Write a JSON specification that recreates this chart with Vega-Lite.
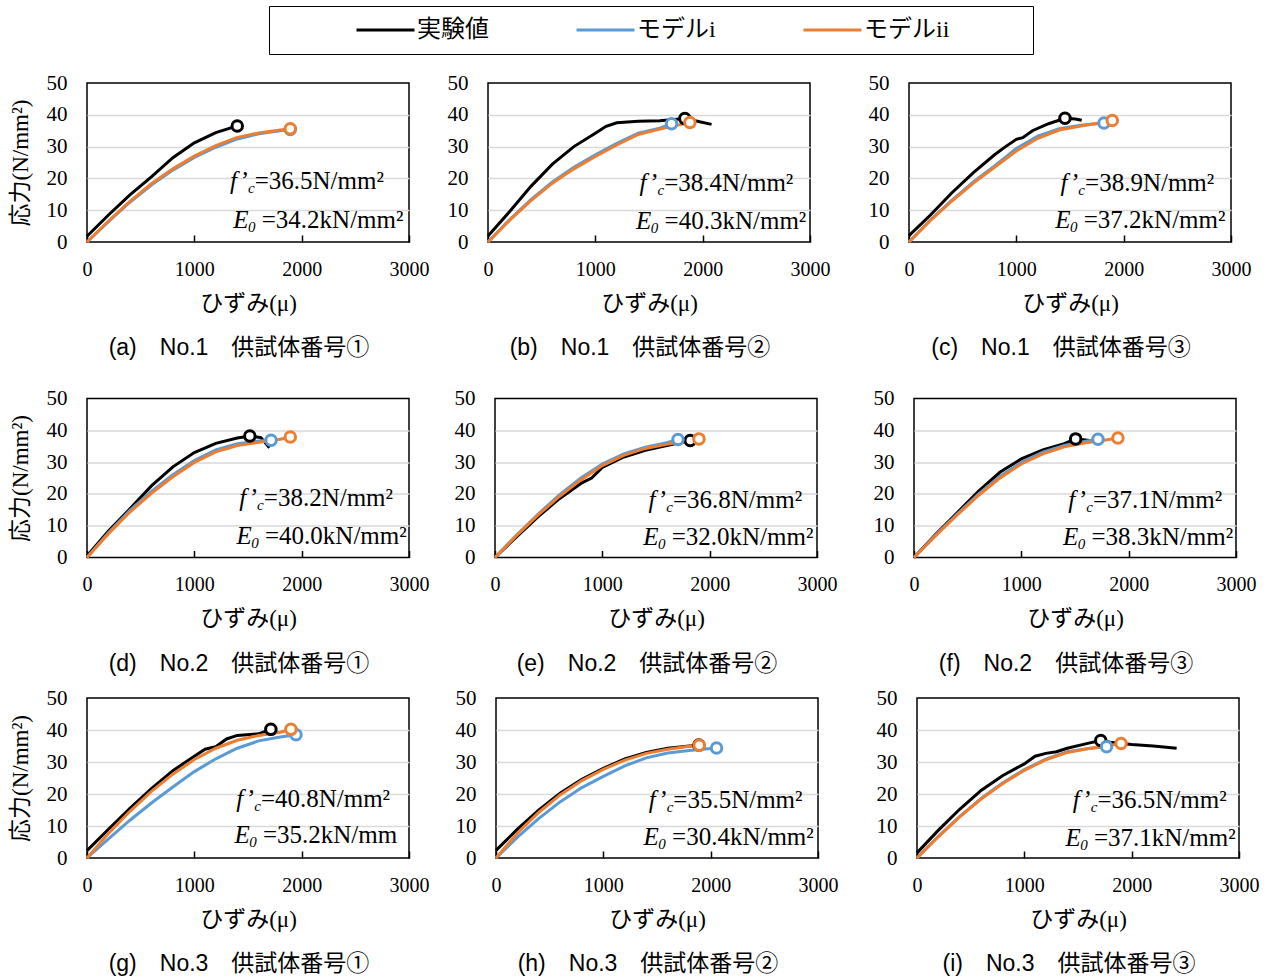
{
"$schema": "https://vega.github.io/schema/vega-lite/v6.json",
"padding": {"left": 8, "top": 5, "right": 5, "bottom": 0},
"background": "white",
"datasets": {
"curves": [
{"panel":"a","series":"実験値","strain":0,"stress":1.8},{"panel":"a","series":"実験値","strain":200,"stress":8.5},{"panel":"a","series":"実験値","strain":400,"stress":14.8},{"panel":"a","series":"実験値","strain":600,"stress":20.5},{"panel":"a","series":"実験値","strain":800,"stress":26.5},{"panel":"a","series":"実験値","strain":1000,"stress":31.2},{"panel":"a","series":"実験値","strain":1200,"stress":34.4},{"panel":"a","series":"実験値","strain":1400,"stress":36.5},
{"panel":"a","series":"モデルi","strain":0,"stress":0},{"panel":"a","series":"モデルi","strain":200,"stress":6.4},{"panel":"a","series":"モデルi","strain":400,"stress":12.5},{"panel":"a","series":"モデルi","strain":600,"stress":17.9},{"panel":"a","series":"モデルi","strain":800,"stress":22.6},{"panel":"a","series":"モデルi","strain":1000,"stress":26.6},{"panel":"a","series":"モデルi","strain":1200,"stress":29.8},{"panel":"a","series":"モデルi","strain":1400,"stress":32.4},{"panel":"a","series":"モデルi","strain":1600,"stress":34},{"panel":"a","series":"モデルi","strain":1800,"stress":35},{"panel":"a","series":"モデルi","strain":1894,"stress":35.4},
{"panel":"a","series":"モデルii","strain":0,"stress":0},{"panel":"a","series":"モデルii","strain":200,"stress":6.6},{"panel":"a","series":"モデルii","strain":400,"stress":12.8},{"panel":"a","series":"モデルii","strain":600,"stress":18.3},{"panel":"a","series":"モデルii","strain":800,"stress":23},{"panel":"a","series":"モデルii","strain":1000,"stress":27},{"panel":"a","series":"モデルii","strain":1200,"stress":30.3},{"panel":"a","series":"モデルii","strain":1400,"stress":32.9},{"panel":"a","series":"モデルii","strain":1600,"stress":34.3},{"panel":"a","series":"モデルii","strain":1800,"stress":35.2},{"panel":"a","series":"モデルii","strain":1894,"stress":35.6},

{"panel":"b","series":"実験値","strain":0,"stress":1.9},{"panel":"b","series":"実験値","strain":200,"stress":9.5},{"panel":"b","series":"実験値","strain":400,"stress":17.5},{"panel":"b","series":"実験値","strain":600,"stress":24.5},{"panel":"b","series":"実験値","strain":800,"stress":30},{"panel":"b","series":"実験値","strain":1000,"stress":34.2},{"panel":"b","series":"実験値","strain":1100,"stress":36.4},{"panel":"b","series":"実験値","strain":1200,"stress":37.5},{"panel":"b","series":"実験値","strain":1400,"stress":38},{"panel":"b","series":"実験値","strain":1600,"stress":38.1},{"panel":"b","series":"実験値","strain":1834,"stress":38.8},{"panel":"b","series":"実験値","strain":1950,"stress":38},{"panel":"b","series":"実験値","strain":2083,"stress":37},
{"panel":"b","series":"モデルi","strain":0,"stress":0},{"panel":"b","series":"モデルi","strain":200,"stress":7},{"panel":"b","series":"モデルi","strain":400,"stress":13.3},{"panel":"b","series":"モデルi","strain":600,"stress":18.9},{"panel":"b","series":"モデルi","strain":800,"stress":23.5},{"panel":"b","series":"モデルi","strain":1000,"stress":27.4},{"panel":"b","series":"モデルi","strain":1200,"stress":31},{"panel":"b","series":"モデルi","strain":1400,"stress":34.2},{"panel":"b","series":"モデルi","strain":1600,"stress":35.8},{"panel":"b","series":"モデルi","strain":1710,"stress":37.2},
{"panel":"b","series":"モデルii","strain":0,"stress":0},{"panel":"b","series":"モデルii","strain":200,"stress":6.8},{"panel":"b","series":"モデルii","strain":400,"stress":13},{"panel":"b","series":"モデルii","strain":600,"stress":18.5},{"panel":"b","series":"モデルii","strain":800,"stress":23},{"panel":"b","series":"モデルii","strain":1000,"stress":26.9},{"panel":"b","series":"モデルii","strain":1200,"stress":30.5},{"panel":"b","series":"モデルii","strain":1400,"stress":33.8},{"panel":"b","series":"モデルii","strain":1600,"stress":35.5},{"panel":"b","series":"モデルii","strain":1800,"stress":37},{"panel":"b","series":"モデルii","strain":1881,"stress":37.6},

{"panel":"c","series":"実験値","strain":0,"stress":2},{"panel":"c","series":"実験値","strain":200,"stress":8.5},{"panel":"c","series":"実験値","strain":400,"stress":15.5},{"panel":"c","series":"実験値","strain":600,"stress":21.8},{"panel":"c","series":"実験値","strain":800,"stress":27.5},{"panel":"c","series":"実験値","strain":900,"stress":30},{"panel":"c","series":"実験値","strain":1000,"stress":32.3},{"panel":"c","series":"実験値","strain":1060,"stress":32.8},{"panel":"c","series":"実験値","strain":1150,"stress":35},{"panel":"c","series":"実験値","strain":1300,"stress":37.2},{"panel":"c","series":"実験値","strain":1453,"stress":38.9},{"panel":"c","series":"実験値","strain":1550,"stress":38.7},{"panel":"c","series":"実験値","strain":1609,"stress":38.3},
{"panel":"c","series":"モデルi","strain":0,"stress":0},{"panel":"c","series":"モデルi","strain":200,"stress":7},{"panel":"c","series":"モデルi","strain":400,"stress":13.2},{"panel":"c","series":"モデルi","strain":600,"stress":18.9},{"panel":"c","series":"モデルi","strain":800,"stress":24},{"panel":"c","series":"モデルi","strain":1000,"stress":29.4},{"panel":"c","series":"モデルi","strain":1200,"stress":33.3},{"panel":"c","series":"モデルi","strain":1400,"stress":35.6},{"panel":"c","series":"モデルi","strain":1600,"stress":36.7},{"panel":"c","series":"モデルi","strain":1817,"stress":37.4},
{"panel":"c","series":"モデルii","strain":0,"stress":0},{"panel":"c","series":"モデルii","strain":200,"stress":6.8},{"panel":"c","series":"モデルii","strain":400,"stress":12.9},{"panel":"c","series":"モデルii","strain":600,"stress":18.5},{"panel":"c","series":"モデルii","strain":800,"stress":23.6},{"panel":"c","series":"モデルii","strain":1000,"stress":28.6},{"panel":"c","series":"モデルii","strain":1200,"stress":32.6},{"panel":"c","series":"モデルii","strain":1400,"stress":35.2},{"panel":"c","series":"モデルii","strain":1600,"stress":36.5},{"panel":"c","series":"モデルii","strain":1800,"stress":37.6},{"panel":"c","series":"モデルii","strain":1894,"stress":38.2},

{"panel":"d","series":"実験値","strain":0,"stress":0.5},{"panel":"d","series":"実験値","strain":200,"stress":8.3},{"panel":"d","series":"実験値","strain":400,"stress":15.3},{"panel":"d","series":"実験値","strain":600,"stress":22.5},{"panel":"d","series":"実験値","strain":800,"stress":28.5},{"panel":"d","series":"実験値","strain":1000,"stress":33},{"panel":"d","series":"実験値","strain":1200,"stress":35.9},{"panel":"d","series":"実験値","strain":1400,"stress":37.6},{"panel":"d","series":"実験値","strain":1517,"stress":38.2},{"panel":"d","series":"実験値","strain":1620,"stress":37.7},{"panel":"d","series":"実験値","strain":1700,"stress":34.5},
{"panel":"d","series":"モデルi","strain":0,"stress":0},{"panel":"d","series":"モデルi","strain":200,"stress":7.8},{"panel":"d","series":"モデルi","strain":400,"stress":14.8},{"panel":"d","series":"モデルi","strain":600,"stress":20.8},{"panel":"d","series":"モデルi","strain":800,"stress":26},{"panel":"d","series":"モデルi","strain":1000,"stress":30.5},{"panel":"d","series":"モデルi","strain":1200,"stress":33.8},{"panel":"d","series":"モデルi","strain":1400,"stress":35.8},{"panel":"d","series":"モデルi","strain":1600,"stress":36.6},{"panel":"d","series":"モデルi","strain":1715,"stress":36.9},
{"panel":"d","series":"モデルii","strain":0,"stress":0},{"panel":"d","series":"モデルii","strain":200,"stress":7.5},{"panel":"d","series":"モデルii","strain":400,"stress":14.3},{"panel":"d","series":"モデルii","strain":600,"stress":20.2},{"panel":"d","series":"モデルii","strain":800,"stress":25.4},{"panel":"d","series":"モデルii","strain":1000,"stress":29.9},{"panel":"d","series":"モデルii","strain":1200,"stress":33.2},{"panel":"d","series":"モデルii","strain":1400,"stress":35.2},{"panel":"d","series":"モデルii","strain":1600,"stress":36.2},{"panel":"d","series":"モデルii","strain":1800,"stress":37.2},{"panel":"d","series":"モデルii","strain":1894,"stress":37.9},

{"panel":"e","series":"実験値","strain":0,"stress":0},{"panel":"e","series":"実験値","strain":200,"stress":6.5},{"panel":"e","series":"実験値","strain":400,"stress":12.8},{"panel":"e","series":"実験値","strain":600,"stress":18.5},{"panel":"e","series":"実験値","strain":800,"stress":23.3},{"panel":"e","series":"実験値","strain":900,"stress":25},{"panel":"e","series":"実験値","strain":1000,"stress":28.3},{"panel":"e","series":"実験値","strain":1200,"stress":31.6},{"panel":"e","series":"実験値","strain":1400,"stress":33.7},{"panel":"e","series":"実験値","strain":1600,"stress":35.2},{"panel":"e","series":"実験値","strain":1819,"stress":36.8},{"panel":"e","series":"実験値","strain":1850,"stress":35.8},
{"panel":"e","series":"モデルi","strain":0,"stress":0},{"panel":"e","series":"モデルi","strain":200,"stress":7},{"panel":"e","series":"モデルi","strain":400,"stress":13.6},{"panel":"e","series":"モデルi","strain":600,"stress":19.7},{"panel":"e","series":"モデルi","strain":800,"stress":25},{"panel":"e","series":"モデルi","strain":1000,"stress":29.4},{"panel":"e","series":"モデルi","strain":1200,"stress":32.6},{"panel":"e","series":"モデルi","strain":1400,"stress":34.7},{"panel":"e","series":"モデルi","strain":1600,"stress":36.1},{"panel":"e","series":"モデルi","strain":1705,"stress":37.1},
{"panel":"e","series":"モデルii","strain":0,"stress":0},{"panel":"e","series":"モデルii","strain":200,"stress":6.9},{"panel":"e","series":"モデルii","strain":400,"stress":13.3},{"panel":"e","series":"モデルii","strain":600,"stress":19.2},{"panel":"e","series":"モデルii","strain":800,"stress":24.4},{"panel":"e","series":"モデルii","strain":1000,"stress":28.9},{"panel":"e","series":"モデルii","strain":1200,"stress":32.1},{"panel":"e","series":"モデルii","strain":1400,"stress":34.3},{"panel":"e","series":"モデルii","strain":1600,"stress":35.6},{"panel":"e","series":"モデルii","strain":1800,"stress":36.6},{"panel":"e","series":"モデルii","strain":1900,"stress":37.3},

{"panel":"f","series":"実験値","strain":0,"stress":0},{"panel":"f","series":"実験値","strain":200,"stress":7.2},{"panel":"f","series":"実験値","strain":400,"stress":14},{"panel":"f","series":"実験値","strain":600,"stress":20.8},{"panel":"f","series":"実験値","strain":800,"stress":26.8},{"panel":"f","series":"実験値","strain":1000,"stress":31},{"panel":"f","series":"実験値","strain":1200,"stress":33.8},{"panel":"f","series":"実験値","strain":1400,"stress":35.8},{"panel":"f","series":"実験値","strain":1506,"stress":37.3},{"panel":"f","series":"実験値","strain":1636,"stress":36.8},
{"panel":"f","series":"モデルi","strain":0,"stress":0},{"panel":"f","series":"モデルi","strain":200,"stress":7},{"panel":"f","series":"モデルi","strain":400,"stress":13.6},{"panel":"f","series":"モデルi","strain":600,"stress":19.9},{"panel":"f","series":"モデルi","strain":800,"stress":25.5},{"panel":"f","series":"モデルi","strain":1000,"stress":29.9},{"panel":"f","series":"モデルi","strain":1200,"stress":33.1},{"panel":"f","series":"モデルi","strain":1400,"stress":35.2},{"panel":"f","series":"モデルi","strain":1600,"stress":36.6},{"panel":"f","series":"モデルi","strain":1714,"stress":37.2},
{"panel":"f","series":"モデルii","strain":0,"stress":0},{"panel":"f","series":"モデルii","strain":200,"stress":6.8},{"panel":"f","series":"モデルii","strain":400,"stress":13.3},{"panel":"f","series":"モデルii","strain":600,"stress":19.5},{"panel":"f","series":"モデルii","strain":800,"stress":25},{"panel":"f","series":"モデルii","strain":1000,"stress":29.4},{"panel":"f","series":"モデルii","strain":1200,"stress":32.6},{"panel":"f","series":"モデルii","strain":1400,"stress":34.8},{"panel":"f","series":"モデルii","strain":1600,"stress":36.1},{"panel":"f","series":"モデルii","strain":1800,"stress":37},{"panel":"f","series":"モデルii","strain":1900,"stress":37.6},

{"panel":"g","series":"実験値","strain":0,"stress":2.3},{"panel":"g","series":"実験値","strain":200,"stress":9},{"panel":"g","series":"実験値","strain":400,"stress":15.5},{"panel":"g","series":"実験値","strain":600,"stress":21.7},{"panel":"g","series":"実験値","strain":800,"stress":27.3},{"panel":"g","series":"実験値","strain":1000,"stress":31.8},{"panel":"g","series":"実験値","strain":1100,"stress":34},{"panel":"g","series":"実験値","strain":1200,"stress":34.8},{"panel":"g","series":"実験値","strain":1300,"stress":37.2},{"panel":"g","series":"実験値","strain":1400,"stress":38.3},{"panel":"g","series":"実験値","strain":1600,"stress":38.8},{"panel":"g","series":"実験値","strain":1713,"stress":40.2},{"panel":"g","series":"実験値","strain":1780,"stress":39.2},
{"panel":"g","series":"モデルi","strain":0,"stress":0},{"panel":"g","series":"モデルi","strain":200,"stress":6},{"panel":"g","series":"モデルi","strain":400,"stress":11.8},{"panel":"g","series":"モデルi","strain":600,"stress":17.2},{"panel":"g","series":"モデルi","strain":800,"stress":22.2},{"panel":"g","series":"モデルi","strain":1000,"stress":27},{"panel":"g","series":"モデルi","strain":1200,"stress":31},{"panel":"g","series":"モデルi","strain":1400,"stress":34.3},{"panel":"g","series":"モデルi","strain":1600,"stress":36.6},{"panel":"g","series":"モデルi","strain":1800,"stress":37.8},{"panel":"g","series":"モデルi","strain":1947,"stress":38.5},
{"panel":"g","series":"モデルii","strain":0,"stress":0},{"panel":"g","series":"モデルii","strain":200,"stress":7.7},{"panel":"g","series":"モデルii","strain":400,"stress":14.6},{"panel":"g","series":"モデルii","strain":600,"stress":20.8},{"panel":"g","series":"モデルii","strain":800,"stress":26.2},{"panel":"g","series":"モデルii","strain":1000,"stress":30.8},{"panel":"g","series":"モデルii","strain":1200,"stress":34.3},{"panel":"g","series":"モデルii","strain":1400,"stress":36.8},{"panel":"g","series":"モデルii","strain":1600,"stress":38.3},{"panel":"g","series":"モデルii","strain":1800,"stress":39.3},{"panel":"g","series":"モデルii","strain":1900,"stress":40.2},

{"panel":"h","series":"実験値","strain":0,"stress":2.4},{"panel":"h","series":"実験値","strain":200,"stress":9},{"panel":"h","series":"実験値","strain":400,"stress":15},{"panel":"h","series":"実験値","strain":600,"stress":20.3},{"panel":"h","series":"実験値","strain":800,"stress":24.6},{"panel":"h","series":"実験値","strain":1000,"stress":28},{"panel":"h","series":"実験値","strain":1200,"stress":31},{"panel":"h","series":"実験値","strain":1400,"stress":33},{"panel":"h","series":"実験値","strain":1600,"stress":34.3},{"panel":"h","series":"実験値","strain":1890,"stress":35.3},
{"panel":"h","series":"モデルi","strain":0,"stress":0},{"panel":"h","series":"モデルi","strain":200,"stress":6.5},{"panel":"h","series":"モデルi","strain":400,"stress":12.4},{"panel":"h","series":"モデルi","strain":600,"stress":17.6},{"panel":"h","series":"モデルi","strain":800,"stress":22},{"panel":"h","series":"モデルi","strain":1000,"stress":25.5},{"panel":"h","series":"モデルi","strain":1200,"stress":28.8},{"panel":"h","series":"モデルi","strain":1400,"stress":31.3},{"panel":"h","series":"モデルi","strain":1600,"stress":32.8},{"panel":"h","series":"モデルi","strain":1800,"stress":33.6},{"panel":"h","series":"モデルi","strain":2055,"stress":34.4},
{"panel":"h","series":"モデルii","strain":0,"stress":0},{"panel":"h","series":"モデルii","strain":200,"stress":7.8},{"panel":"h","series":"モデルii","strain":400,"stress":14.3},{"panel":"h","series":"モデルii","strain":600,"stress":19.8},{"panel":"h","series":"モデルii","strain":800,"stress":24.2},{"panel":"h","series":"モデルii","strain":1000,"stress":27.7},{"panel":"h","series":"モデルii","strain":1200,"stress":30.6},{"panel":"h","series":"モデルii","strain":1400,"stress":32.7},{"panel":"h","series":"モデルii","strain":1600,"stress":34},{"panel":"h","series":"モデルii","strain":1800,"stress":34.9},{"panel":"h","series":"モデルii","strain":1893,"stress":35.2},

{"panel":"i","series":"実験値","strain":0,"stress":1.6},{"panel":"i","series":"実験値","strain":200,"stress":8.7},{"panel":"i","series":"実験値","strain":400,"stress":15.3},{"panel":"i","series":"実験値","strain":600,"stress":21.2},{"panel":"i","series":"実験値","strain":800,"stress":25.8},{"panel":"i","series":"実験値","strain":1000,"stress":29.4},{"panel":"i","series":"実験値","strain":1100,"stress":31.8},{"panel":"i","series":"実験値","strain":1200,"stress":32.7},{"panel":"i","series":"実験値","strain":1300,"stress":33.2},{"panel":"i","series":"実験値","strain":1400,"stress":34.3},{"panel":"i","series":"実験値","strain":1600,"stress":35.9},{"panel":"i","series":"実験値","strain":1712,"stress":36.7},{"panel":"i","series":"実験値","strain":1800,"stress":36.2},{"panel":"i","series":"実験値","strain":2000,"stress":35.5},{"panel":"i","series":"実験値","strain":2200,"stress":35},{"panel":"i","series":"実験値","strain":2419,"stress":34.3},
{"panel":"i","series":"モデルi","strain":0,"stress":0},{"panel":"i","series":"モデルi","strain":200,"stress":6.8},{"panel":"i","series":"モデルi","strain":400,"stress":13},{"panel":"i","series":"モデルi","strain":600,"stress":18.7},{"panel":"i","series":"モデルi","strain":800,"stress":23.5},{"panel":"i","series":"モデルi","strain":1000,"stress":27.6},{"panel":"i","series":"モデルi","strain":1200,"stress":30.9},{"panel":"i","series":"モデルi","strain":1400,"stress":33.2},{"panel":"i","series":"モデルi","strain":1600,"stress":34.2},{"panel":"i","series":"モデルi","strain":1766,"stress":34.8},
{"panel":"i","series":"モデルii","strain":0,"stress":0},{"panel":"i","series":"モデルii","strain":200,"stress":6.7},{"panel":"i","series":"モデルii","strain":400,"stress":12.9},{"panel":"i","series":"モデルii","strain":600,"stress":18.5},{"panel":"i","series":"モデルii","strain":800,"stress":23.3},{"panel":"i","series":"モデルii","strain":1000,"stress":27.4},{"panel":"i","series":"モデルii","strain":1200,"stress":30.7},{"panel":"i","series":"モデルii","strain":1400,"stress":33},{"panel":"i","series":"モデルii","strain":1600,"stress":34.2},{"panel":"i","series":"モデルii","strain":1800,"stress":35.2},{"panel":"i","series":"モデルii","strain":1901,"stress":35.8}
],
"peaks": [
{"panel":"a","series":"実験値","strain":1400,"stress":36.5},{"panel":"a","series":"モデルi","strain":1894,"stress":35.4},{"panel":"a","series":"モデルii","strain":1894,"stress":35.6},
{"panel":"b","series":"実験値","strain":1834,"stress":38.8},{"panel":"b","series":"モデルi","strain":1710,"stress":37.2},{"panel":"b","series":"モデルii","strain":1881,"stress":37.6},
{"panel":"c","series":"実験値","strain":1453,"stress":38.9},{"panel":"c","series":"モデルi","strain":1817,"stress":37.4},{"panel":"c","series":"モデルii","strain":1894,"stress":38.2},
{"panel":"d","series":"実験値","strain":1517,"stress":38.2},{"panel":"d","series":"モデルi","strain":1715,"stress":36.9},{"panel":"d","series":"モデルii","strain":1894,"stress":37.9},
{"panel":"e","series":"実験値","strain":1819,"stress":36.8},{"panel":"e","series":"モデルi","strain":1705,"stress":37.1},{"panel":"e","series":"モデルii","strain":1900,"stress":37.3},
{"panel":"f","series":"実験値","strain":1506,"stress":37.3},{"panel":"f","series":"モデルi","strain":1714,"stress":37.2},{"panel":"f","series":"モデルii","strain":1900,"stress":37.6},
{"panel":"g","series":"実験値","strain":1713,"stress":40.2},{"panel":"g","series":"モデルi","strain":1947,"stress":38.5},{"panel":"g","series":"モデルii","strain":1900,"stress":40.2},
{"panel":"h","series":"実験値","strain":1890,"stress":35.3},{"panel":"h","series":"モデルi","strain":2055,"stress":34.4},{"panel":"h","series":"モデルii","strain":1893,"stress":35.2},
{"panel":"i","series":"実験値","strain":1712,"stress":36.7},{"panel":"i","series":"モデルi","strain":1766,"stress":34.8},{"panel":"i","series":"モデルii","strain":1901,"stress":35.8}
],
"notes": [
{"panel":"a","pre":"f’","sub":"c","label":"=36.5N/mm²","strain":1562,"stress":16.7},{"panel":"a","pre":"E","sub":"0","label":"\u200b\u00a0=34.2kN/mm²","strain":1570,"stress":4.4},
{"panel":"b","pre":"f’","sub":"c","label":"=38.4N/mm²","strain":1641,"stress":15.9},{"panel":"b","pre":"E","sub":"0","label":"\u200b\u00a0=40.3kN/mm²","strain":1587,"stress":4.2},
{"panel":"c","pre":"f’","sub":"c","label":"=38.9N/mm²","strain":1640,"stress":16.1},{"panel":"c","pre":"E","sub":"0","label":"\u200b\u00a0=37.2kN/mm²","strain":1570,"stress":4.4},
{"panel":"d","pre":"f’","sub":"c","label":"=38.2N/mm²","strain":1647,"stress":16.1},{"panel":"d","pre":"E","sub":"0","label":"\u200b\u00a0=40.0kN/mm²","strain":1600,"stress":4.2},
{"panel":"e","pre":"f’","sub":"c","label":"=36.8N/mm²","strain":1658,"stress":15.6},{"panel":"e","pre":"E","sub":"0","label":"\u200b\u00a0=32.0kN/mm²","strain":1588,"stress":3.8},
{"panel":"f","pre":"f’","sub":"c","label":"=37.1N/mm²","strain":1667,"stress":15.7},{"panel":"f","pre":"E","sub":"0","label":"\u200b\u00a0=38.3kN/mm²","strain":1595,"stress":4.0},
{"panel":"g","pre":"f’","sub":"c","label":"=40.8N/mm²","strain":1620,"stress":16},{"panel":"g","pre":"E","sub":"0","label":"\u200b\u00a0=35.2kN/mm","strain":1581,"stress":4.6},
{"panel":"h","pre":"f’","sub":"c","label":"=35.5N/mm²","strain":1652,"stress":15.6},{"panel":"h","pre":"E","sub":"0","label":"\u200b\u00a0=30.4kN/mm²","strain":1582,"stress":4.0},
{"panel":"i","pre":"f’","sub":"c","label":"=36.5N/mm²","strain":1681,"stress":15.6},{"panel":"i","pre":"E","sub":"0","label":"\u200b\u00a0=37.1kN/mm²","strain":1590,"stress":3.8}
]
},
"vconcat": [
{"hconcat": [
 {"width":322,"height":159,"title":"(a)　No.1　供試体番号①",
  "encoding":{"x":{"field":"strain","type":"quantitative","scale":{"domain":[0,3000],"nice":false},"axis":{"values":[0,1000,2000,3000],"format":"d","title":"ひずみ(μ)"}},
   "y":{"field":"stress","type":"quantitative","scale":{"domain":[0,50],"nice":false},"axis":{"values":[0,10,20,30,40,50],"title":"応力(N/mm²)","gridColor":{"condition":{"test":"datum.value === 0 || datum.value === 50","value":"transparent"},"value":"#d9d9d9"}}}},
  "layer":[
   {"data":{"name":"curves"},"transform":[{"filter":"datum.panel === 'a'"}],"mark":"line","encoding":{"color":{"field":"series","type":"nominal","scale":{"domain":["実験値","モデルi","モデルii"],"range":["#000000","#5B9BD5","#ED7D31"]},
     "legend":{"orient":"none","legendX":182,"legendY":-77,"direction":"horizontal","title":"　","titleOrient":"left","titleFont":"Noto Sans CJK JP","titleFontSize":24,"titlePadding":75,"symbolType":"stroke","symbolSize":3364,"symbolStrokeWidth":3.5,"clipHeight":26,"labelFont":"'Liberation Serif', 'Noto Sans CJK JP'","labelFontSize":24,"labelColor":"black","labelOffset":1,"columnPadding":86,"padding":11,"strokeColor":"black","labelLimit":0,"labelExpr":"datum.label == 'モデルii' ? 'モデルii　　　\u200b' : datum.label"}}}},
   {"data":{"name":"peaks"},"transform":[{"filter":"datum.panel === 'a'"}],"mark":"point","encoding":{"color":{"field":"series","type":"nominal","scale":{"domain":["実験値","モデルi","モデルii"],"range":["#000000","#5B9BD5","#ED7D31"]}}}},
   {"data":{"name":"notes"},"transform":[{"filter":"datum.panel === 'a'"}],"layer":[
     {"mark":{"type":"text","fontStyle":"italic","align":"right","dx":-7},"encoding":{"text":{"field":"pre","type":"nominal"}}},
     {"mark":{"type":"text","fontStyle":"italic","fontSize":15,"align":"right","dy":4},"encoding":{"text":{"field":"sub","type":"nominal"}}},
     {"mark":{"type":"text","align":"left"},"encoding":{"text":{"field":"label","type":"nominal"}}}]}
  ]},
 {"hconcat":[
 {"width":322,"height":159,"title":"(b)　No.1　供試体番号②",
  "encoding":{"x":{"field":"strain","type":"quantitative","scale":{"domain":[0,3000],"nice":false},"axis":{"values":[0,1000,2000,3000],"format":"d","title":"ひずみ(μ)"}},
   "y":{"field":"stress","type":"quantitative","scale":{"domain":[0,50],"nice":false},"axis":{"values":[0,10,20,30,40,50],"title":null,"gridColor":{"condition":{"test":"datum.value === 0 || datum.value === 50","value":"transparent"},"value":"#d9d9d9"}}}},
  "layer":[
   {"data":{"name":"curves"},"transform":[{"filter":"datum.panel === 'b'"}],"mark":"line","encoding":{"color":{"field":"series","type":"nominal","scale":{"domain":["実験値","モデルi","モデルii"],"range":["#000000","#5B9BD5","#ED7D31"]}}}},
   {"data":{"name":"peaks"},"transform":[{"filter":"datum.panel === 'b'"}],"mark":"point","encoding":{"color":{"field":"series","type":"nominal","scale":{"domain":["実験値","モデルi","モデルii"],"range":["#000000","#5B9BD5","#ED7D31"]}}}},
   {"data":{"name":"notes"},"transform":[{"filter":"datum.panel === 'b'"}],"layer":[
     {"mark":{"type":"text","fontStyle":"italic","align":"right","dx":-7},"encoding":{"text":{"field":"pre","type":"nominal"}}},
     {"mark":{"type":"text","fontStyle":"italic","fontSize":15,"align":"right","dy":4},"encoding":{"text":{"field":"sub","type":"nominal"}}},
     {"mark":{"type":"text","align":"left"},"encoding":{"text":{"field":"label","type":"nominal"}}}]}
  ]},
 {"width":322,"height":159,"title":"(c)　No.1　供試体番号③",
  "encoding":{"x":{"field":"strain","type":"quantitative","scale":{"domain":[0,3000],"nice":false},"axis":{"values":[0,1000,2000,3000],"format":"d","title":"ひずみ(μ)"}},
   "y":{"field":"stress","type":"quantitative","scale":{"domain":[0,50],"nice":false},"axis":{"values":[0,10,20,30,40,50],"title":null,"gridColor":{"condition":{"test":"datum.value === 0 || datum.value === 50","value":"transparent"},"value":"#d9d9d9"}}}},
  "layer":[
   {"data":{"name":"curves"},"transform":[{"filter":"datum.panel === 'c'"}],"mark":"line","encoding":{"color":{"field":"series","type":"nominal","scale":{"domain":["実験値","モデルi","モデルii"],"range":["#000000","#5B9BD5","#ED7D31"]}}}},
   {"data":{"name":"peaks"},"transform":[{"filter":"datum.panel === 'c'"}],"mark":"point","encoding":{"color":{"field":"series","type":"nominal","scale":{"domain":["実験値","モデルi","モデルii"],"range":["#000000","#5B9BD5","#ED7D31"]}}}},
   {"data":{"name":"notes"},"transform":[{"filter":"datum.panel === 'c'"}],"layer":[
     {"mark":{"type":"text","fontStyle":"italic","align":"right","dx":-7},"encoding":{"text":{"field":"pre","type":"nominal"}}},
     {"mark":{"type":"text","fontStyle":"italic","fontSize":15,"align":"right","dy":4},"encoding":{"text":{"field":"sub","type":"nominal"}}},
     {"mark":{"type":"text","align":"left"},"encoding":{"text":{"field":"label","type":"nominal"}}}]}
  ]}
 ],"spacing":36}
],"spacing":16},
{"vconcat":[
{"hconcat": [
 {"width":322,"height":159,"title":"(d)　No.2　供試体番号①",
  "encoding":{"x":{"field":"strain","type":"quantitative","scale":{"domain":[0,3000],"nice":false},"axis":{"values":[0,1000,2000,3000],"format":"d","title":"ひずみ(μ)"}},
   "y":{"field":"stress","type":"quantitative","scale":{"domain":[0,50],"nice":false},"axis":{"values":[0,10,20,30,40,50],"title":"応力(N/mm²)","gridColor":{"condition":{"test":"datum.value === 0 || datum.value === 50","value":"transparent"},"value":"#d9d9d9"}}}},
  "layer":[
   {"data":{"name":"curves"},"transform":[{"filter":"datum.panel === 'd'"}],"mark":"line","encoding":{"color":{"field":"series","type":"nominal","scale":{"domain":["実験値","モデルi","モデルii"],"range":["#000000","#5B9BD5","#ED7D31"]}}}},
   {"data":{"name":"peaks"},"transform":[{"filter":"datum.panel === 'd'"}],"mark":"point","encoding":{"color":{"field":"series","type":"nominal","scale":{"domain":["実験値","モデルi","モデルii"],"range":["#000000","#5B9BD5","#ED7D31"]}}}},
   {"data":{"name":"notes"},"transform":[{"filter":"datum.panel === 'd'"}],"layer":[
     {"mark":{"type":"text","fontStyle":"italic","align":"right","dx":-7},"encoding":{"text":{"field":"pre","type":"nominal"}}},
     {"mark":{"type":"text","fontStyle":"italic","fontSize":15,"align":"right","dy":4},"encoding":{"text":{"field":"sub","type":"nominal"}}},
     {"mark":{"type":"text","align":"left"},"encoding":{"text":{"field":"label","type":"nominal"}}}]}
  ]},
 {"hconcat":[
 {"width":322,"height":159,"title":"(e)　No.2　供試体番号②",
  "encoding":{"x":{"field":"strain","type":"quantitative","scale":{"domain":[0,3000],"nice":false},"axis":{"values":[0,1000,2000,3000],"format":"d","title":"ひずみ(μ)"}},
   "y":{"field":"stress","type":"quantitative","scale":{"domain":[0,50],"nice":false},"axis":{"values":[0,10,20,30,40,50],"title":null,"gridColor":{"condition":{"test":"datum.value === 0 || datum.value === 50","value":"transparent"},"value":"#d9d9d9"}}}},
  "layer":[
   {"data":{"name":"curves"},"transform":[{"filter":"datum.panel === 'e'"}],"mark":"line","encoding":{"color":{"field":"series","type":"nominal","scale":{"domain":["実験値","モデルi","モデルii"],"range":["#000000","#5B9BD5","#ED7D31"]}}}},
   {"data":{"name":"peaks"},"transform":[{"filter":"datum.panel === 'e'"}],"mark":"point","encoding":{"color":{"field":"series","type":"nominal","scale":{"domain":["実験値","モデルi","モデルii"],"range":["#000000","#5B9BD5","#ED7D31"]}}}},
   {"data":{"name":"notes"},"transform":[{"filter":"datum.panel === 'e'"}],"layer":[
     {"mark":{"type":"text","fontStyle":"italic","align":"right","dx":-7},"encoding":{"text":{"field":"pre","type":"nominal"}}},
     {"mark":{"type":"text","fontStyle":"italic","fontSize":15,"align":"right","dy":4},"encoding":{"text":{"field":"sub","type":"nominal"}}},
     {"mark":{"type":"text","align":"left"},"encoding":{"text":{"field":"label","type":"nominal"}}}]}
  ]},
 {"width":322,"height":159,"title":"(f)　No.2　供試体番号③",
  "encoding":{"x":{"field":"strain","type":"quantitative","scale":{"domain":[0,3000],"nice":false},"axis":{"values":[0,1000,2000,3000],"format":"d","title":"ひずみ(μ)"}},
   "y":{"field":"stress","type":"quantitative","scale":{"domain":[0,50],"nice":false},"axis":{"values":[0,10,20,30,40,50],"title":null,"gridColor":{"condition":{"test":"datum.value === 0 || datum.value === 50","value":"transparent"},"value":"#d9d9d9"}}}},
  "layer":[
   {"data":{"name":"curves"},"transform":[{"filter":"datum.panel === 'f'"}],"mark":"line","encoding":{"color":{"field":"series","type":"nominal","scale":{"domain":["実験値","モデルi","モデルii"],"range":["#000000","#5B9BD5","#ED7D31"]}}}},
   {"data":{"name":"peaks"},"transform":[{"filter":"datum.panel === 'f'"}],"mark":"point","encoding":{"color":{"field":"series","type":"nominal","scale":{"domain":["実験値","モデルi","モデルii"],"range":["#000000","#5B9BD5","#ED7D31"]}}}},
   {"data":{"name":"notes"},"transform":[{"filter":"datum.panel === 'f'"}],"layer":[
     {"mark":{"type":"text","fontStyle":"italic","align":"right","dx":-7},"encoding":{"text":{"field":"pre","type":"nominal"}}},
     {"mark":{"type":"text","fontStyle":"italic","fontSize":15,"align":"right","dy":4},"encoding":{"text":{"field":"sub","type":"nominal"}}},
     {"mark":{"type":"text","align":"left"},"encoding":{"text":{"field":"label","type":"nominal"}}}]}
  ]}
 ],"spacing":34}
],"spacing":23},
{"hconcat": [
 {"width":322,"height":160,"title":"(g)　No.3　供試体番号①",
  "encoding":{"x":{"field":"strain","type":"quantitative","scale":{"domain":[0,3000],"nice":false},"axis":{"values":[0,1000,2000,3000],"format":"d","title":"ひずみ(μ)"}},
   "y":{"field":"stress","type":"quantitative","scale":{"domain":[0,50],"nice":false},"axis":{"values":[0,10,20,30,40,50],"title":"応力(N/mm²)","gridColor":{"condition":{"test":"datum.value === 0 || datum.value === 50","value":"transparent"},"value":"#d9d9d9"}}}},
  "layer":[
   {"data":{"name":"curves"},"transform":[{"filter":"datum.panel === 'g'"}],"mark":"line","encoding":{"color":{"field":"series","type":"nominal","scale":{"domain":["実験値","モデルi","モデルii"],"range":["#000000","#5B9BD5","#ED7D31"]}}}},
   {"data":{"name":"peaks"},"transform":[{"filter":"datum.panel === 'g'"}],"mark":"point","encoding":{"color":{"field":"series","type":"nominal","scale":{"domain":["実験値","モデルi","モデルii"],"range":["#000000","#5B9BD5","#ED7D31"]}}}},
   {"data":{"name":"notes"},"transform":[{"filter":"datum.panel === 'g'"}],"layer":[
     {"mark":{"type":"text","fontStyle":"italic","align":"right","dx":-7},"encoding":{"text":{"field":"pre","type":"nominal"}}},
     {"mark":{"type":"text","fontStyle":"italic","fontSize":15,"align":"right","dy":4},"encoding":{"text":{"field":"sub","type":"nominal"}}},
     {"mark":{"type":"text","align":"left"},"encoding":{"text":{"field":"label","type":"nominal"}}}]}
  ]},
 {"hconcat":[
 {"width":322,"height":160,"title":"(h)　No.3　供試体番号②",
  "encoding":{"x":{"field":"strain","type":"quantitative","scale":{"domain":[0,3000],"nice":false},"axis":{"values":[0,1000,2000,3000],"format":"d","title":"ひずみ(μ)"}},
   "y":{"field":"stress","type":"quantitative","scale":{"domain":[0,50],"nice":false},"axis":{"values":[0,10,20,30,40,50],"title":null,"gridColor":{"condition":{"test":"datum.value === 0 || datum.value === 50","value":"transparent"},"value":"#d9d9d9"}}}},
  "layer":[
   {"data":{"name":"curves"},"transform":[{"filter":"datum.panel === 'h'"}],"mark":"line","encoding":{"color":{"field":"series","type":"nominal","scale":{"domain":["実験値","モデルi","モデルii"],"range":["#000000","#5B9BD5","#ED7D31"]}}}},
   {"data":{"name":"peaks"},"transform":[{"filter":"datum.panel === 'h'"}],"mark":"point","encoding":{"color":{"field":"series","type":"nominal","scale":{"domain":["実験値","モデルi","モデルii"],"range":["#000000","#5B9BD5","#ED7D31"]}}}},
   {"data":{"name":"notes"},"transform":[{"filter":"datum.panel === 'h'"}],"layer":[
     {"mark":{"type":"text","fontStyle":"italic","align":"right","dx":-7},"encoding":{"text":{"field":"pre","type":"nominal"}}},
     {"mark":{"type":"text","fontStyle":"italic","fontSize":15,"align":"right","dy":4},"encoding":{"text":{"field":"sub","type":"nominal"}}},
     {"mark":{"type":"text","align":"left"},"encoding":{"text":{"field":"label","type":"nominal"}}}]}
  ]},
 {"width":322,"height":160,"title":"(i)　No.3　供試体番号③",
  "encoding":{"x":{"field":"strain","type":"quantitative","scale":{"domain":[0,3000],"nice":false},"axis":{"values":[0,1000,2000,3000],"format":"d","title":"ひずみ(μ)"}},
   "y":{"field":"stress","type":"quantitative","scale":{"domain":[0,50],"nice":false},"axis":{"values":[0,10,20,30,40,50],"title":null,"gridColor":{"condition":{"test":"datum.value === 0 || datum.value === 50","value":"transparent"},"value":"#d9d9d9"}}}},
  "layer":[
   {"data":{"name":"curves"},"transform":[{"filter":"datum.panel === 'i'"}],"mark":"line","encoding":{"color":{"field":"series","type":"nominal","scale":{"domain":["実験値","モデルi","モデルii"],"range":["#000000","#5B9BD5","#ED7D31"]}}}},
   {"data":{"name":"peaks"},"transform":[{"filter":"datum.panel === 'i'"}],"mark":"point","encoding":{"color":{"field":"series","type":"nominal","scale":{"domain":["実験値","モデルi","モデルii"],"range":["#000000","#5B9BD5","#ED7D31"]}}}},
   {"data":{"name":"notes"},"transform":[{"filter":"datum.panel === 'i'"}],"layer":[
     {"mark":{"type":"text","fontStyle":"italic","align":"right","dx":-7},"encoding":{"text":{"field":"pre","type":"nominal"}}},
     {"mark":{"type":"text","fontStyle":"italic","fontSize":15,"align":"right","dy":4},"encoding":{"text":{"field":"sub","type":"nominal"}}},
     {"mark":{"type":"text","align":"left"},"encoding":{"text":{"field":"label","type":"nominal"}}}]}
  ]}
 ],"spacing":36}
],"spacing":24}
],"spacing":9.5}
],
"spacing": 25.5,
"config": {
 "view": {"stroke": "black", "strokeWidth": 1.5},
 "axis": {"labelFont": "Liberation Serif", "labelFontSize": 20, "labelColor": "black", "titleFont": "'Liberation Serif', 'Noto Sans CJK JP'", "titleFontSize": 23, "titleFontWeight": "normal", "titleColor": "black", "domain": false, "labelFlush": false, "labelOverlap": false},
 "axisX": {"grid": false, "ticks": true, "tickSize": -7, "tickColor": "black", "tickWidth": 1.5, "labelPadding": 24, "titlePadding": 13},
 "axisY": {"grid": true, "gridWidth": 1.5, "ticks": false, "labelFontSize": 21, "labelPadding": 20, "titlePadding": 14},
 "title": {"orient": "bottom", "font": "'Liberation Sans', 'Noto Sans CJK JP'", "fontSize": 23, "fontWeight": "normal", "color": "black", "offset": 22, "anchor": "middle", "frame": "group", "dx": -9},
 "line": {"strokeWidth": 3},
 "point": {"shape": "circle", "filled": false, "fill": "white", "size": 110, "strokeWidth": 3, "opacity": 1},
 "text": {"font": "Liberation Serif", "fontSize": 25, "baseline": "alphabetic", "color": "black"}
}
}
